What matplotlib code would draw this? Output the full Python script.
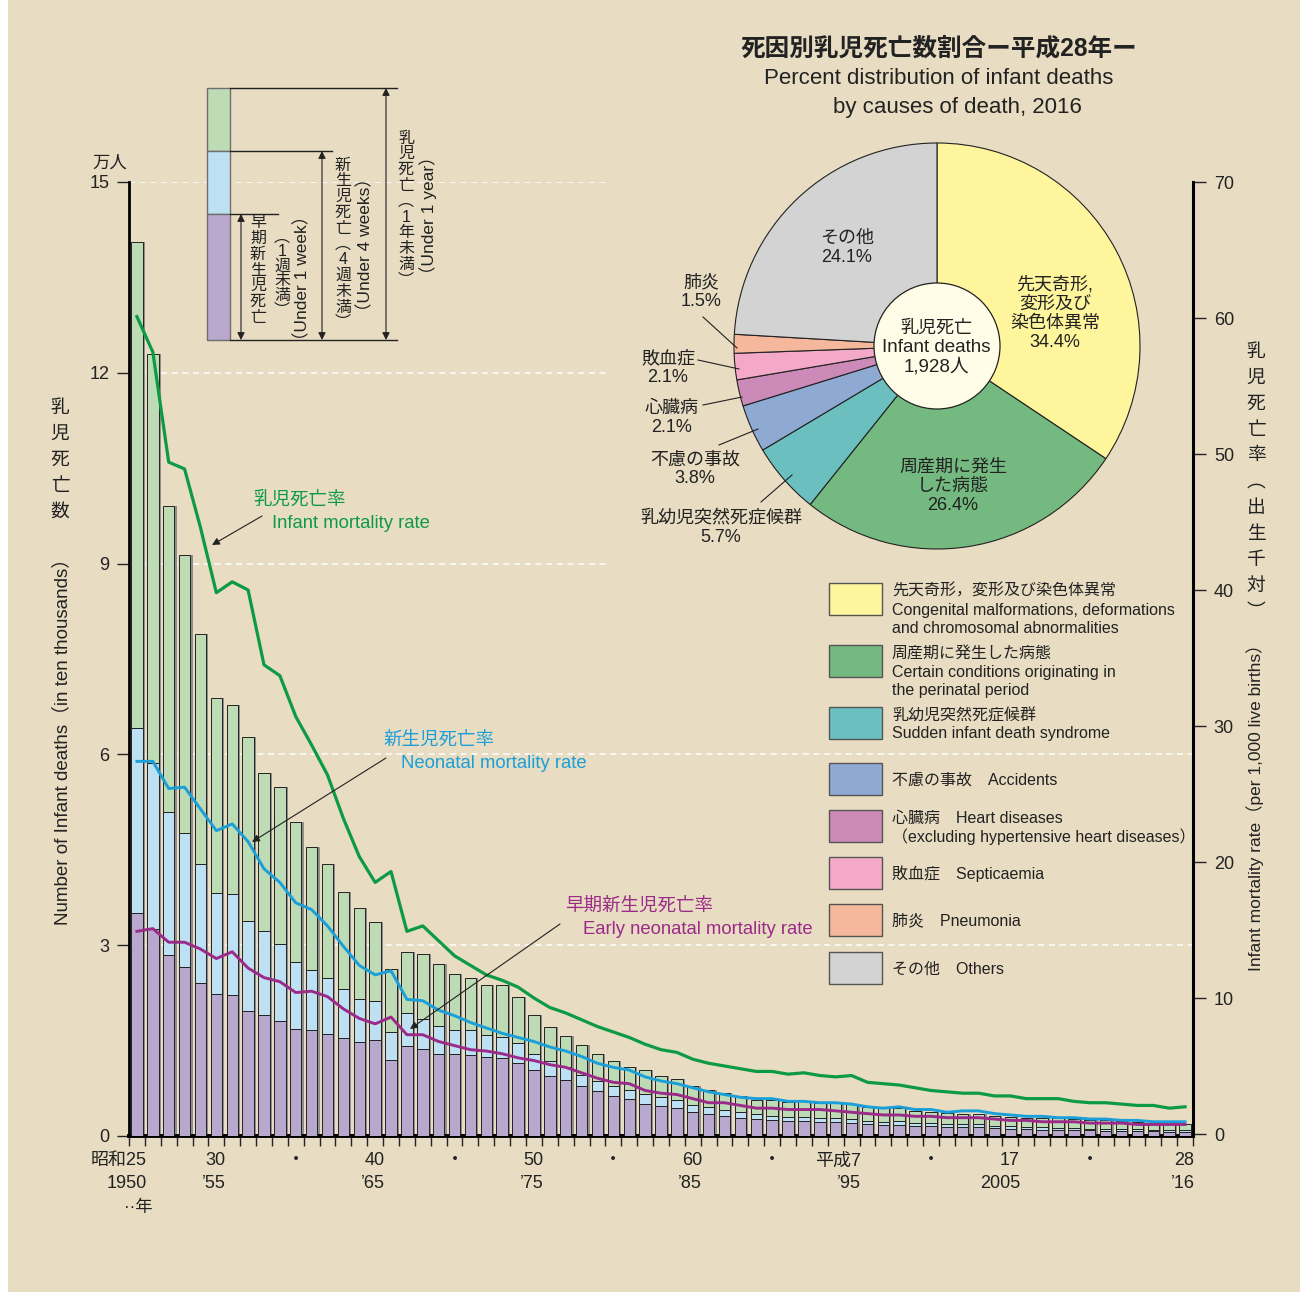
import matplotlib
matplotlib.use('Agg')
import matplotlib.pyplot as plt
from matplotlib.patches import Rectangle, Circle
from matplotlib.lines import Line2D
import numpy as np

# Latin in a Helvetica-like face, Japanese from Noto CJK
plt.rcParams['font.family'] = ['Liberation Sans', 'Noto Sans CJK JP', 'DejaVu Sans']

# ---- data -------------------------------------------------------------
years = list(range(1950, 2017))

# infant deaths (in ten thousands)
total_deaths = [14.05, 12.29, 9.91, 9.14, 7.89, 6.88, 6.77, 6.27, 5.71, 5.48,
                4.93, 4.55, 4.28, 3.84, 3.58, 3.37, 2.62, 2.89, 2.86, 2.70,
                2.54, 2.48, 2.38, 2.37, 2.19, 1.91, 1.71, 1.57, 1.43, 1.29,
                1.18, 1.09, 1.04, 0.94, 0.89, 0.79, 0.73, 0.67, 0.63, 0.57,
                0.56, 0.54, 0.55, 0.52, 0.53, 0.51, 0.45, 0.44, 0.44, 0.40,
                0.38, 0.36, 0.35, 0.34, 0.31, 0.30, 0.29, 0.28, 0.28, 0.26,
                0.25, 0.25, 0.23, 0.22, 0.21, 0.19, 0.19]
neonatal_deaths = [6.41, 5.87, 5.10, 4.76, 4.27, 3.82, 3.80, 3.38, 3.23, 3.02,
                   2.74, 2.61, 2.49, 2.31, 2.15, 2.13, 1.64, 1.93, 1.84, 1.73,
                   1.67, 1.66, 1.59, 1.56, 1.46, 1.29, 1.18, 1.09, 0.96, 0.87,
                   0.78, 0.72, 0.66, 0.61, 0.57, 0.49, 0.45, 0.41, 0.37, 0.34,
                   0.32, 0.30, 0.30, 0.28, 0.29, 0.26, 0.241, 0.226, 0.235, 0.212,
                   0.211, 0.191, 0.194, 0.188, 0.162, 0.151, 0.144, 0.143, 0.133, 0.125,
                   0.117, 0.115, 0.107, 0.103, 0.095, 0.090, 0.087]
early_deaths = [3.50, 3.26, 2.85, 2.66, 2.41, 2.24, 2.22, 1.96, 1.90, 1.81,
                1.69, 1.67, 1.60, 1.54, 1.48, 1.51, 1.19, 1.42, 1.37, 1.29,
                1.29, 1.27, 1.25, 1.22, 1.15, 1.04, 0.95, 0.88, 0.78, 0.70,
                0.63, 0.58, 0.51, 0.47, 0.44, 0.38, 0.34, 0.32, 0.29, 0.26,
                0.25, 0.23, 0.23, 0.22, 0.22, 0.20, 0.181, 0.167, 0.170, 0.153,
                0.155, 0.144, 0.144, 0.137, 0.121, 0.113, 0.108, 0.101, 0.096, 0.091,
                0.087, 0.085, 0.076, 0.074, 0.071, 0.066, 0.064]

# rates per 1,000 live births
infant_rate = [60.1, 57.5, 49.4, 48.9, 44.6, 39.8, 40.6, 40.0, 34.5, 33.7,
               30.7, 28.6, 26.4, 23.2, 20.4, 18.5, 19.3, 14.9, 15.3, 14.2,
               13.1, 12.4, 11.7, 11.3, 10.8, 10.0, 9.3, 8.9, 8.4, 7.9,
               7.5, 7.1, 6.6, 6.2, 6.0, 5.5, 5.2, 5.0, 4.8, 4.6,
               4.6, 4.4, 4.5, 4.3, 4.2, 4.3, 3.8, 3.7, 3.6, 3.4,
               3.2, 3.1, 3.0, 3.0, 2.8, 2.8, 2.6, 2.6, 2.6, 2.4,
               2.3, 2.3, 2.2, 2.1, 2.1, 1.9, 2.0]
neonatal_rate = [27.4, 27.4, 25.4, 25.5, 23.9, 22.3, 22.8, 21.5, 19.5, 18.5,
                 17.0, 16.5, 15.3, 13.8, 12.4, 11.7, 12.0, 9.9, 9.8, 9.1,
                 8.7, 8.2, 7.8, 7.4, 7.1, 6.8, 6.4, 6.1, 5.7, 5.2,
                 4.9, 4.7, 4.2, 3.9, 3.7, 3.4, 3.1, 2.9, 2.7, 2.6,
                 2.6, 2.4, 2.4, 2.3, 2.3, 2.2, 2.0, 1.9, 2.0, 1.8,
                 1.8, 1.6, 1.7, 1.7, 1.5, 1.4, 1.3, 1.3, 1.2, 1.2,
                 1.1, 1.1, 1.0, 1.0, 0.9, 0.9, 0.9]
early_rate = [14.9, 15.1, 14.1, 14.1, 13.6, 12.9, 13.4, 12.2, 11.5, 11.2,
              10.4, 10.5, 10.1, 9.2, 8.5, 8.1, 8.6, 7.3, 7.3, 6.8,
              6.5, 6.2, 6.1, 5.9, 5.6, 5.4, 5.1, 4.9, 4.5, 4.1,
              3.8, 3.7, 3.2, 3.0, 2.9, 2.6, 2.3, 2.3, 2.1, 1.9,
              1.9, 1.8, 1.8, 1.8, 1.7, 1.6, 1.5, 1.4, 1.4, 1.3,
              1.3, 1.2, 1.2, 1.2, 1.1, 1.0, 1.0, 0.9, 0.9, 0.9,
              0.8, 0.8, 0.8, 0.7, 0.7, 0.7, 0.7]

era_ticks = [1950, 1955, 1960, 1965, 1970, 1975, 1980, 1985, 1990, 1995, 2000, 2005, 2010, 2016]
era_labels = ['昭和25', '30', '・', '40', '・', '50', '・', '60', '・', '平成7', '・', '17', '・', '28']
west_ticks = [1950, 1955, 1965, 1975, 1985, 1995, 2005, 2016]
west_labels = ['1950', '’55', '’65', '’75', '’85', '’95', '2005', '’16']

left_ticks = [0, 3, 6, 9, 12, 15]
right_ticks = [0, 10, 20, 30, 40, 50, 60, 70]

# pie: causes of infant death, 2016 (%)
cause_names = ['先天奇形,\n変形及び\n染色体異常', '周産期に発生\nした病態', '乳幼児突然死症候群',
               '不慮の事故', '心臓病', '敗血症', '肺炎', 'その他']
cause_pct = [34.4, 26.4, 5.7, 3.8, 2.1, 2.1, 1.5, 24.1]
legend_text = [
    ['先天奇形，変形及び染色体異常', 'Congenital malformations, deformations', 'and chromosomal abnormalities'],
    ['周産期に発生した病態', 'Certain conditions originating in', 'the perinatal period'],
    ['乳幼児突然死症候群', 'Sudden infant death syndrome'],
    ['不慮の事故　Accidents'],
    ['心臓病　Heart diseases', '（excluding hypertensive heart diseases）'],
    ['敗血症　Septicaemia'],
    ['肺炎　Pneumonia'],
    ['その他　Others'],
]

# ---- styles -----------------------------------------------------------
BG = '#e8dcc2'
BAR_GREEN, BAR_BLUE, BAR_PURPLE = '#bddbb5', '#bde0f2', '#b9a8cd'
LN_GREEN, LN_BLUE, LN_PURPLE = '#0d9a45', '#1a9fd9', '#9b2a88'
PIE_COLORS = ['#fff59c', '#74b97f', '#6cbfbf', '#8eaad2', '#cc8ab8', '#f4a9c8', '#f6b89c', '#d3d3d3']
INK = '#222222'

W, H = 1308, 1299


def fx(x):
    return x / W


def fy(y):
    return 1 - y / H


def txt(x, y, s, **kw):
    kw.setdefault('ha', 'center')
    kw.setdefault('va', 'center')
    kw.setdefault('fontsize', 12.5)
    kw.setdefault('color', INK)
    fig.text(fx(x), fy(y), s, **kw)


def stack(x, y0, step, chars, **kw):
    # vertical (tategaki) text, one glyph per position
    for i, ch in enumerate(chars):
        txt(x, y0 + i * step, ch, **kw)


def arrow(tail, head, style='-|>'):
    fig.add_artist(matplotlib.patches.FancyArrowPatch(
        (fx(tail[0]), fy(tail[1])), (fx(head[0]), fy(head[1])),
        transform=fig.transFigure, arrowstyle=style, mutation_scale=11,
        lw=0.8, color=INK, shrinkA=0, shrinkB=0))


def hline(x0, x1, y, lw=1.0):
    fig.add_artist(Line2D([fx(x0), fx(x1)], [fy(y), fy(y)], transform=fig.transFigure,
                          color=INK, lw=lw))


fig = plt.figure(figsize=(W / 100, H / 100), dpi=100)
fig.patch.set_facecolor('white')
fig.add_artist(Rectangle((fx(8), fy(1292)), (1300 - 8) / W, 1292 / H, transform=fig.transFigure,
                         facecolor=BG, edgecolor='none', zorder=-10))

# ---- main chart -------------------------------------------------------
ax = fig.add_axes([fx(129), fy(1136), (1193 - 129) / W, (1136 - 182) / H])
ax.patch.set_visible(False)
ax.set_xlim(1949.5, 2016.5)
ax.set_ylim(0, 15)

# dashed white guide lines
dash = (0, (4, 3))
for v in [15, 12, 9]:
    ax.plot([1949.5, 1979.8], [v, v], color='white', lw=1.1, ls=dash, zorder=1)
for v in [6, 3]:
    ax.plot([1949.5, 2016.5], [v, v], color='white', lw=1.1, ls=dash, zorder=1)

xs = np.array(years)
bw = 0.72
ax.bar(xs + 0.14, total_deaths, bw, color='#8e8e8e', zorder=2)
ax.bar(xs, early_deaths, bw, color=BAR_PURPLE, edgecolor=INK, lw=0.7, zorder=3)
ax.bar(xs, np.subtract(neonatal_deaths, early_deaths), bw, bottom=early_deaths,
       color=BAR_BLUE, edgecolor=INK, lw=0.7, zorder=3)
ax.bar(xs, np.subtract(total_deaths, neonatal_deaths), bw, bottom=neonatal_deaths,
       color=BAR_GREEN, edgecolor=INK, lw=0.7, zorder=3)

ax.set_yticks(left_ticks)
ax.tick_params(axis='y', length=9, width=1, labelsize=13, pad=5, colors=INK)
ax.set_xticks(np.arange(1949.5, 2016.6, 1.0))
ax.tick_params(axis='x', length=7, width=1, labelbottom=False, colors=INK)
for s in ['top', 'right']:
    ax.spines[s].set_visible(False)
ax.spines['left'].set_linewidth(2)
ax.spines['bottom'].set_linewidth(2.8)

xt = ax.get_xaxis_transform()
for yr, lab in zip(era_ticks, era_labels):
    if lab == '・':
        ax.text(yr, -0.0262, lab, transform=xt, ha='center', va='center', fontsize=13, color=INK)
    else:
        ax.text(yr + 0.6, -0.0262, lab, transform=xt, ha='right', va='center', fontsize=13, color=INK)
for yr, lab in zip(west_ticks, west_labels):
    ax.text(yr + 0.6, -0.0493, lab, transform=xt, ha='right', va='center', fontsize=13, color=INK)
ax.text(1950.1, -0.0744, '··年', transform=xt, ha='center', va='center', fontsize=12.5, color=INK)

ax2 = ax.twinx()
ax2.set_ylim(-0.147, 70)
ax2.set_yticks(right_ticks)
ax2.tick_params(axis='y', length=9, width=1, labelsize=13, pad=6, colors=INK)
for s in ['top', 'left', 'bottom']:
    ax2.spines[s].set_visible(False)
ax2.spines['right'].set_linewidth(2.2)
ax2.plot(xs, infant_rate, color=LN_GREEN, lw=2.3, zorder=5)
ax2.plot(xs, neonatal_rate, color=LN_BLUE, lw=2.1, zorder=5)
ax2.plot(xs, early_rate, color=LN_PURPLE, lw=2.1, zorder=5)

# axis titles
txt(110, 163, '万人', fontsize=12.5)
stack(60, 409, 25.7, '乳児死亡数', fontsize=13.5)
txt(62, 737, 'Number of Infant deaths（in ten thousands）', rotation=90, fontsize=13.5)
stack(1256, 352, 26.0, '乳児死亡率︵出生千対︶', fontsize=13.5)
txt(1255, 803, 'Infant mortality rate（per 1,000 live births）', rotation=90, fontsize=12.5)

# line captions
txt(253, 500, '乳児死亡率', ha='left', color=LN_GREEN, fontsize=13.3)
txt(272, 524, 'Infant mortality rate', ha='left', color=LN_GREEN, fontsize=13.3)
arrow((262, 516), (212, 545))
txt(383, 740, '新生児死亡率', ha='left', color=LN_BLUE, fontsize=13.3)
txt(401, 764, 'Neonatal mortality rate', ha='left', color=LN_BLUE, fontsize=13.3)
arrow((386, 758), (252, 842))
txt(565, 906, '早期新生児死亡率', ha='left', color=LN_PURPLE, fontsize=13.3)
txt(583, 930, 'Early neonatal mortality rate', ha='left', color=LN_PURPLE, fontsize=13.3)
arrow((560, 924), (410, 1029))

# ---- schematic of the stacked bar --------------------------------------
for top, bot, col in [(88, 151, BAR_GREEN), (151, 214, BAR_BLUE), (214, 340, BAR_PURPLE)]:
    fig.add_artist(Rectangle((fx(207), fy(bot)), 23 / W, (bot - top) / H, transform=fig.transFigure,
                             facecolor=col, edgecolor='#6e6e6e', lw=1.0))
hline(230, 397, 88)
hline(230, 332, 151)
hline(230, 278, 214)
hline(230, 397, 340)
arrow((241, 214), (241, 340), '<|-|>')
arrow((322, 151), (322, 340), '<|-|>')
arrow((386, 88), (386, 340), '<|-|>')
stack(258, 223, 15.7, '早期新生児死亡', fontsize=11.5)
stack(282, 237, 14.6, '︵1週未満︶', fontsize=11.5)
txt(302, 278, '（Under 1 week）', rotation=90, fontsize=12.5)
stack(343, 165, 15.8, '新生児死亡︵4週未満︶', fontsize=11.5)
txt(365, 245, '（Under 4 weeks）', rotation=90, fontsize=12.5)
stack(406, 138, 15.8, '乳児死亡︵1年未満︶', fontsize=11.5)
txt(428, 215, '（Under 1 year）', rotation=90, fontsize=12.5)

# ---- pie --------------------------------------------------------------
txt(939, 49, '死因別乳児死亡数割合ー平成28年ー', fontsize=17.7, weight='bold')
txt(939, 79, 'Percent distribution of infant deaths', fontsize=16)
txt(957, 107, 'by causes of death, 2016', fontsize=16)

R = 203
axp = fig.add_axes([fx(937 - 210), fy(346 + 210), 420 / W, 420 / H])
axp.pie(cause_pct, colors=PIE_COLORS, startangle=90, counterclock=False, radius=1,
        wedgeprops=dict(edgecolor=INK, linewidth=0.8))
axp.add_patch(Circle((0, 0), 63 / R, facecolor='#fffce8', edgecolor=INK, lw=0.9, zorder=5))
axp.set_xlim(-210 / R, 210 / R)
axp.set_ylim(-210 / R, 210 / R)
axp.axis('off')

txt(936, 328, '乳児死亡', fontsize=13)
txt(936, 348, 'Infant deaths', fontsize=13.5)
txt(936, 367, '1,928人', fontsize=13.5)

# label positions (px) for each cause
label_pos = [(1055, 285), (953, 467), (721, 518), (695, 460), (672, 408), (668, 359), (701, 283), (847, 238)]
for name, pct, (lx, ly) in zip(cause_names, cause_pct, label_pos):
    rows = name.split('\n') + [f'{pct}%']
    for i, r in enumerate(rows):
        txt(lx, ly + i * 19, r, fontsize=13)

for tail, head in [((703, 317), (737, 348)), ((698, 360), (739, 369)), ((703, 405), (742, 397)),
                   ((719, 445), (758, 429)), ((761, 502), (792, 475))]:
    fig.add_artist(Line2D([fx(tail[0]), fx(head[0])], [fy(tail[1]), fy(head[1])],
                          transform=fig.transFigure, color=INK, lw=0.8))

# ---- legend -----------------------------------------------------------
box_tops = [583, 645, 707, 763, 810, 857, 904, 952]
for col, top, rows in zip(PIE_COLORS, box_tops, legend_text):
    fig.add_artist(Rectangle((fx(829), fy(top + 32)), 53 / W, 32 / H, transform=fig.transFigure,
                             facecolor=col, edgecolor='#555555', lw=1.0))
    if len(rows) == 1:
        txt(892, top + 17, rows[0], ha='left', fontsize=11.5)
    else:
        for i, r in enumerate(rows):
            txt(892, top + 8.5 + i * 18.5, r, ha='left', fontsize=11.5)

fig.savefig('out.png', dpi=100, facecolor=fig.get_facecolor())
